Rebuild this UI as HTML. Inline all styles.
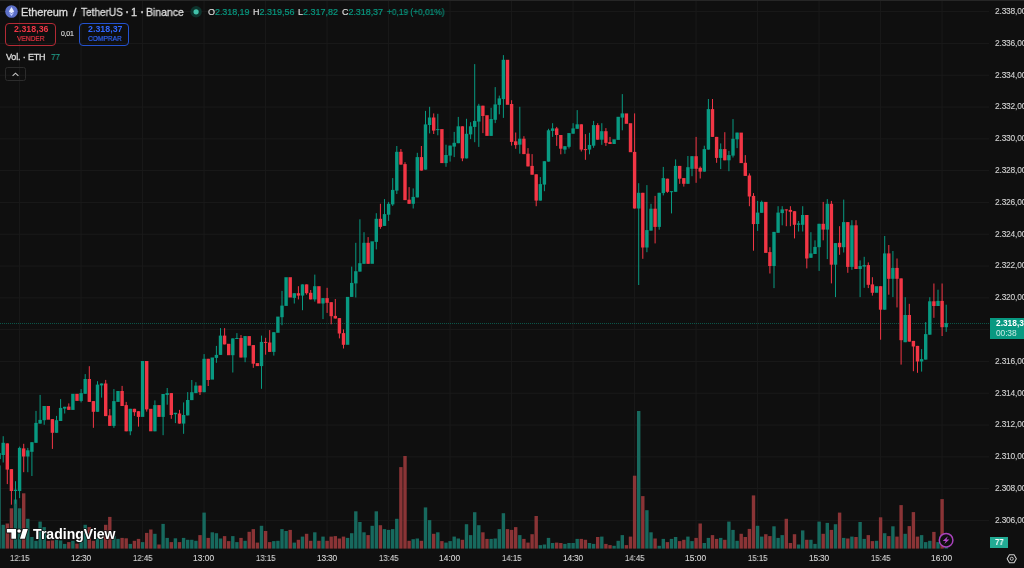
<!DOCTYPE html>
<html><head><meta charset="utf-8"><title>ETHUSDT</title>
<style>
html,body{margin:0;padding:0;background:#0f0f0f;}
body{width:1024px;height:568px;overflow:hidden;position:relative;font-family:"Liberation Sans",sans-serif;color:#d1d4dc;}
.abs{position:absolute;white-space:nowrap;}
.t{height:14px;line-height:14px;will-change:transform;}
.g{color:#089981}
</style></head><body>
<svg width="1024" height="568" viewBox="0 0 1024 568" style="position:absolute;left:0;top:0">
<g fill="#1a1a1a"><rect x="19.10" y="0" width="1" height="549" /><rect x="80.60" y="0" width="1" height="549" /><rect x="142.10" y="0" width="1" height="549" /><rect x="203.60" y="0" width="1" height="549" /><rect x="265.10" y="0" width="1" height="549" /><rect x="326.60" y="0" width="1" height="549" /><rect x="388.10" y="0" width="1" height="549" /><rect x="449.60" y="0" width="1" height="549" /><rect x="511.10" y="0" width="1" height="549" /><rect x="572.60" y="0" width="1" height="549" /><rect x="634.10" y="0" width="1" height="549" /><rect x="695.60" y="0" width="1" height="549" /><rect x="757.10" y="0" width="1" height="549" /><rect x="818.60" y="0" width="1" height="549" /><rect x="880.10" y="0" width="1" height="549" /><rect x="941.60" y="0" width="1" height="549" /><rect x="0" y="11.15" width="989" height="1" /><rect x="0" y="42.95" width="989" height="1" /><rect x="0" y="74.75" width="989" height="1" /><rect x="0" y="106.55" width="989" height="1" /><rect x="0" y="138.35" width="989" height="1" /><rect x="0" y="170.15" width="989" height="1" /><rect x="0" y="201.95" width="989" height="1" /><rect x="0" y="233.75" width="989" height="1" /><rect x="0" y="265.55" width="989" height="1" /><rect x="0" y="297.35" width="989" height="1" /><rect x="0" y="329.15" width="989" height="1" /><rect x="0" y="360.95" width="989" height="1" /><rect x="0" y="392.75" width="989" height="1" /><rect x="0" y="424.55" width="989" height="1" /><rect x="0" y="456.35" width="989" height="1" /><rect x="0" y="488.15" width="989" height="1" /><rect x="0" y="519.95" width="989" height="1" /></g>
<g fill="#17695e"><rect x="-2.60" y="465.4" width="3.4" height="83.2"/><rect x="1.50" y="524.8" width="3.4" height="23.8"/><rect x="13.80" y="499.5" width="3.4" height="49.1"/><rect x="17.90" y="508.3" width="3.4" height="40.3"/><rect x="26.10" y="518.8" width="3.4" height="29.8"/><rect x="30.20" y="537.0" width="3.4" height="11.6"/><rect x="34.30" y="540.8" width="3.4" height="7.8"/><rect x="38.40" y="521.6" width="3.4" height="27.0"/><rect x="42.50" y="527.1" width="3.4" height="21.5"/><rect x="54.80" y="539.8" width="3.4" height="8.8"/><rect x="58.90" y="540.4" width="3.4" height="8.2"/><rect x="63.00" y="543.9" width="3.4" height="4.7"/><rect x="71.20" y="540.8" width="3.4" height="7.8"/><rect x="79.40" y="541.7" width="3.4" height="6.9"/><rect x="83.50" y="524.8" width="3.4" height="23.8"/><rect x="95.80" y="537.9" width="3.4" height="10.7"/><rect x="99.90" y="538.9" width="3.4" height="9.7"/><rect x="112.20" y="536.1" width="3.4" height="12.5"/><rect x="116.30" y="538.9" width="3.4" height="9.7"/><rect x="128.60" y="543.9" width="3.4" height="4.7"/><rect x="140.90" y="542.1" width="3.4" height="6.5"/><rect x="153.20" y="533.8" width="3.4" height="14.8"/><rect x="161.40" y="523.9" width="3.4" height="24.7"/><rect x="165.50" y="537.9" width="3.4" height="10.7"/><rect x="173.70" y="538.3" width="3.4" height="10.3"/><rect x="181.90" y="537.9" width="3.4" height="10.7"/><rect x="186.00" y="539.8" width="3.4" height="8.8"/><rect x="190.10" y="539.8" width="3.4" height="8.8"/><rect x="194.20" y="540.8" width="3.4" height="7.8"/><rect x="202.40" y="512.6" width="3.4" height="36.0"/><rect x="210.60" y="532.3" width="3.4" height="16.3"/><rect x="214.70" y="533.2" width="3.4" height="15.4"/><rect x="218.80" y="538.5" width="3.4" height="10.1"/><rect x="231.10" y="536.1" width="3.4" height="12.5"/><rect x="235.20" y="542.1" width="3.4" height="6.5"/><rect x="243.40" y="540.8" width="3.4" height="7.8"/><rect x="259.80" y="525.8" width="3.4" height="22.8"/><rect x="272.10" y="541.1" width="3.4" height="7.5"/><rect x="276.20" y="540.8" width="3.4" height="7.8"/><rect x="280.30" y="529.1" width="3.4" height="19.5"/><rect x="284.40" y="531.0" width="3.4" height="17.6"/><rect x="292.60" y="542.6" width="3.4" height="6.0"/><rect x="300.80" y="536.6" width="3.4" height="12.0"/><rect x="313.10" y="532.3" width="3.4" height="16.3"/><rect x="321.30" y="536.6" width="3.4" height="12.0"/><rect x="345.90" y="537.9" width="3.4" height="10.7"/><rect x="350.00" y="533.2" width="3.4" height="15.4"/><rect x="354.10" y="511.3" width="3.4" height="37.3"/><rect x="358.20" y="522.0" width="3.4" height="26.6"/><rect x="362.30" y="532.3" width="3.4" height="16.3"/><rect x="370.50" y="525.8" width="3.4" height="22.8"/><rect x="374.60" y="511.3" width="3.4" height="37.3"/><rect x="382.80" y="529.1" width="3.4" height="19.5"/><rect x="386.90" y="529.9" width="3.4" height="18.7"/><rect x="391.00" y="529.1" width="3.4" height="19.5"/><rect x="395.10" y="518.8" width="3.4" height="29.8"/><rect x="411.50" y="539.2" width="3.4" height="9.4"/><rect x="415.60" y="538.5" width="3.4" height="10.1"/><rect x="423.80" y="507.4" width="3.4" height="41.2"/><rect x="427.90" y="520.1" width="3.4" height="28.5"/><rect x="436.10" y="532.3" width="3.4" height="16.3"/><rect x="444.30" y="542.6" width="3.4" height="6.0"/><rect x="448.40" y="541.1" width="3.4" height="7.5"/><rect x="452.50" y="536.6" width="3.4" height="12.0"/><rect x="456.60" y="538.5" width="3.4" height="10.1"/><rect x="464.80" y="524.2" width="3.4" height="24.4"/><rect x="468.90" y="535.1" width="3.4" height="13.5"/><rect x="473.00" y="512.2" width="3.4" height="36.4"/><rect x="477.10" y="525.2" width="3.4" height="23.4"/><rect x="489.40" y="538.9" width="3.4" height="9.7"/><rect x="493.50" y="538.5" width="3.4" height="10.1"/><rect x="497.60" y="529.1" width="3.4" height="19.5"/><rect x="501.70" y="513.2" width="3.4" height="35.4"/><rect x="518.10" y="535.1" width="3.4" height="13.5"/><rect x="538.60" y="545.1" width="3.4" height="3.5"/><rect x="542.70" y="544.5" width="3.4" height="4.1"/><rect x="546.80" y="537.9" width="3.4" height="10.7"/><rect x="550.90" y="543.0" width="3.4" height="5.6"/><rect x="563.20" y="543.9" width="3.4" height="4.7"/><rect x="567.30" y="543.0" width="3.4" height="5.6"/><rect x="571.40" y="543.0" width="3.4" height="5.6"/><rect x="575.50" y="538.9" width="3.4" height="9.7"/><rect x="587.80" y="543.0" width="3.4" height="5.6"/><rect x="591.90" y="543.9" width="3.4" height="4.7"/><rect x="600.10" y="536.6" width="3.4" height="12.0"/><rect x="612.40" y="545.8" width="3.4" height="2.8"/><rect x="616.50" y="540.8" width="3.4" height="7.8"/><rect x="620.60" y="535.1" width="3.4" height="13.5"/><rect x="637.00" y="411.0" width="3.4" height="137.6"/><rect x="645.20" y="510.2" width="3.4" height="38.4"/><rect x="649.30" y="532.3" width="3.4" height="16.3"/><rect x="657.50" y="545.8" width="3.4" height="2.8"/><rect x="661.60" y="538.9" width="3.4" height="9.7"/><rect x="669.80" y="538.9" width="3.4" height="9.7"/><rect x="673.90" y="537.0" width="3.4" height="11.6"/><rect x="686.20" y="536.6" width="3.4" height="12.0"/><rect x="690.30" y="541.1" width="3.4" height="7.5"/><rect x="702.60" y="543.0" width="3.4" height="5.6"/><rect x="706.70" y="537.9" width="3.4" height="10.7"/><rect x="719.00" y="537.9" width="3.4" height="10.7"/><rect x="727.20" y="521.6" width="3.4" height="27.0"/><rect x="731.30" y="529.9" width="3.4" height="18.7"/><rect x="735.40" y="540.8" width="3.4" height="7.8"/><rect x="755.90" y="525.8" width="3.4" height="22.8"/><rect x="760.00" y="536.6" width="3.4" height="12.0"/><rect x="772.30" y="526.3" width="3.4" height="22.3"/><rect x="776.40" y="537.9" width="3.4" height="10.7"/><rect x="780.50" y="535.1" width="3.4" height="13.5"/><rect x="796.90" y="544.5" width="3.4" height="4.1"/><rect x="801.00" y="530.4" width="3.4" height="18.2"/><rect x="809.20" y="539.8" width="3.4" height="8.8"/><rect x="813.30" y="543.9" width="3.4" height="4.7"/><rect x="817.40" y="521.6" width="3.4" height="27.0"/><rect x="825.60" y="522.9" width="3.4" height="25.7"/><rect x="833.80" y="524.2" width="3.4" height="24.4"/><rect x="842.00" y="537.9" width="3.4" height="10.7"/><rect x="850.20" y="536.6" width="3.4" height="12.0"/><rect x="858.40" y="522.0" width="3.4" height="26.6"/><rect x="862.50" y="538.9" width="3.4" height="9.7"/><rect x="874.80" y="540.8" width="3.4" height="7.8"/><rect x="883.00" y="533.2" width="3.4" height="15.4"/><rect x="891.20" y="526.3" width="3.4" height="22.3"/><rect x="903.50" y="533.8" width="3.4" height="14.8"/><rect x="919.90" y="535.1" width="3.4" height="13.5"/><rect x="924.00" y="542.1" width="3.4" height="6.5"/><rect x="928.10" y="540.8" width="3.4" height="7.8"/><rect x="936.30" y="542.1" width="3.4" height="6.5"/><rect x="944.50" y="546.9" width="3.4" height="1.7"/></g>
<g fill="#8a3436"><rect x="5.60" y="523.5" width="3.4" height="25.1"/><rect x="9.70" y="508.3" width="3.4" height="40.3"/><rect x="22.00" y="493.3" width="3.4" height="55.3"/><rect x="46.60" y="540.8" width="3.4" height="7.8"/><rect x="50.70" y="540.4" width="3.4" height="8.2"/><rect x="67.10" y="542.1" width="3.4" height="6.5"/><rect x="75.30" y="543.6" width="3.4" height="5.0"/><rect x="87.60" y="527.1" width="3.4" height="21.5"/><rect x="91.70" y="540.8" width="3.4" height="7.8"/><rect x="104.00" y="524.8" width="3.4" height="23.8"/><rect x="108.10" y="516.9" width="3.4" height="31.7"/><rect x="120.40" y="537.9" width="3.4" height="10.7"/><rect x="124.50" y="538.3" width="3.4" height="10.3"/><rect x="132.70" y="540.8" width="3.4" height="7.8"/><rect x="136.80" y="538.9" width="3.4" height="9.7"/><rect x="145.00" y="532.9" width="3.4" height="15.7"/><rect x="149.10" y="529.5" width="3.4" height="19.1"/><rect x="157.30" y="544.5" width="3.4" height="4.1"/><rect x="169.60" y="542.1" width="3.4" height="6.5"/><rect x="177.80" y="542.1" width="3.4" height="6.5"/><rect x="198.30" y="535.1" width="3.4" height="13.5"/><rect x="206.50" y="537.9" width="3.4" height="10.7"/><rect x="222.90" y="536.1" width="3.4" height="12.5"/><rect x="227.00" y="541.1" width="3.4" height="7.5"/><rect x="239.30" y="537.9" width="3.4" height="10.7"/><rect x="247.50" y="531.8" width="3.4" height="16.8"/><rect x="251.60" y="529.1" width="3.4" height="19.5"/><rect x="255.70" y="542.6" width="3.4" height="6.0"/><rect x="263.90" y="531.0" width="3.4" height="17.6"/><rect x="268.00" y="542.1" width="3.4" height="6.5"/><rect x="288.50" y="529.9" width="3.4" height="18.7"/><rect x="296.70" y="539.8" width="3.4" height="8.8"/><rect x="304.90" y="533.8" width="3.4" height="14.8"/><rect x="309.00" y="540.8" width="3.4" height="7.8"/><rect x="317.20" y="540.8" width="3.4" height="7.8"/><rect x="325.40" y="540.8" width="3.4" height="7.8"/><rect x="329.50" y="536.6" width="3.4" height="12.0"/><rect x="333.60" y="536.1" width="3.4" height="12.5"/><rect x="337.70" y="538.5" width="3.4" height="10.1"/><rect x="341.80" y="536.6" width="3.4" height="12.0"/><rect x="366.40" y="535.1" width="3.4" height="13.5"/><rect x="378.70" y="525.2" width="3.4" height="23.4"/><rect x="399.20" y="467.1" width="3.4" height="81.5"/><rect x="403.30" y="456.0" width="3.4" height="92.6"/><rect x="407.40" y="540.8" width="3.4" height="7.8"/><rect x="419.70" y="540.8" width="3.4" height="7.8"/><rect x="432.00" y="533.8" width="3.4" height="14.8"/><rect x="440.20" y="541.1" width="3.4" height="7.5"/><rect x="460.70" y="539.8" width="3.4" height="8.8"/><rect x="481.20" y="532.3" width="3.4" height="16.3"/><rect x="485.30" y="538.9" width="3.4" height="9.7"/><rect x="505.80" y="529.1" width="3.4" height="19.5"/><rect x="509.90" y="529.9" width="3.4" height="18.7"/><rect x="514.00" y="527.1" width="3.4" height="21.5"/><rect x="522.20" y="538.9" width="3.4" height="9.7"/><rect x="526.30" y="542.6" width="3.4" height="6.0"/><rect x="530.40" y="534.2" width="3.4" height="14.4"/><rect x="534.50" y="516.0" width="3.4" height="32.6"/><rect x="555.00" y="542.6" width="3.4" height="6.0"/><rect x="559.10" y="543.0" width="3.4" height="5.6"/><rect x="579.60" y="538.9" width="3.4" height="9.7"/><rect x="583.70" y="539.8" width="3.4" height="8.8"/><rect x="596.00" y="537.0" width="3.4" height="11.6"/><rect x="604.20" y="543.9" width="3.4" height="4.7"/><rect x="608.30" y="545.1" width="3.4" height="3.5"/><rect x="624.70" y="545.1" width="3.4" height="3.5"/><rect x="628.80" y="536.6" width="3.4" height="12.0"/><rect x="632.90" y="475.7" width="3.4" height="72.9"/><rect x="641.10" y="496.1" width="3.4" height="52.5"/><rect x="653.40" y="538.5" width="3.4" height="10.1"/><rect x="665.70" y="542.1" width="3.4" height="6.5"/><rect x="678.00" y="541.1" width="3.4" height="7.5"/><rect x="682.10" y="539.8" width="3.4" height="8.8"/><rect x="694.40" y="537.9" width="3.4" height="10.7"/><rect x="698.50" y="523.5" width="3.4" height="25.1"/><rect x="710.80" y="535.1" width="3.4" height="13.5"/><rect x="714.90" y="538.9" width="3.4" height="9.7"/><rect x="723.10" y="539.8" width="3.4" height="8.8"/><rect x="739.50" y="533.8" width="3.4" height="14.8"/><rect x="743.60" y="537.0" width="3.4" height="11.6"/><rect x="747.70" y="528.9" width="3.4" height="19.7"/><rect x="751.80" y="495.4" width="3.4" height="53.2"/><rect x="764.10" y="534.2" width="3.4" height="14.4"/><rect x="768.20" y="536.1" width="3.4" height="12.5"/><rect x="784.60" y="518.8" width="3.4" height="29.8"/><rect x="788.70" y="543.0" width="3.4" height="5.6"/><rect x="792.80" y="534.2" width="3.4" height="14.4"/><rect x="805.10" y="539.8" width="3.4" height="8.8"/><rect x="821.50" y="533.8" width="3.4" height="14.8"/><rect x="829.70" y="529.9" width="3.4" height="18.7"/><rect x="837.90" y="512.6" width="3.4" height="36.0"/><rect x="846.10" y="538.5" width="3.4" height="10.1"/><rect x="854.30" y="537.0" width="3.4" height="11.6"/><rect x="866.60" y="535.1" width="3.4" height="13.5"/><rect x="870.70" y="541.1" width="3.4" height="7.5"/><rect x="878.90" y="517.3" width="3.4" height="31.3"/><rect x="887.10" y="536.1" width="3.4" height="12.5"/><rect x="895.30" y="536.6" width="3.4" height="12.0"/><rect x="899.40" y="505.1" width="3.4" height="43.5"/><rect x="907.60" y="526.1" width="3.4" height="22.5"/><rect x="911.70" y="512.1" width="3.4" height="36.5"/><rect x="915.80" y="536.6" width="3.4" height="12.0"/><rect x="932.20" y="531.9" width="3.4" height="16.7"/><rect x="940.40" y="499.1" width="3.4" height="49.5"/></g>
<line x1="0" y1="323.5" x2="989" y2="323.5" stroke="#089981" stroke-width="1" stroke-dasharray="1 1" opacity="0.5"/>
<g fill="#089981"><rect x="-2.60" y="453.1" width="3.4" height="6.0"/><rect x="2.70" y="436.2" width="1" height="26.3"/><rect x="1.50" y="442.8" width="3.4" height="12.2"/><rect x="15.00" y="481.2" width="1" height="22.6"/><rect x="13.80" y="489.7" width="3.4" height="1.3"/><rect x="19.10" y="446.6" width="1" height="51.5"/><rect x="17.90" y="447.9" width="3.4" height="43.1"/><rect x="27.30" y="447.9" width="1" height="24.3"/><rect x="26.10" y="450.3" width="3.4" height="6.2"/><rect x="31.40" y="442.2" width="1" height="33.8"/><rect x="30.20" y="442.2" width="3.4" height="9.6"/><rect x="35.50" y="410.9" width="1" height="31.9"/><rect x="34.30" y="422.9" width="3.4" height="19.9"/><rect x="39.60" y="394.9" width="1" height="28.7"/><rect x="38.40" y="419.9" width="3.4" height="3.7"/><rect x="43.70" y="406.0" width="1" height="18.8"/><rect x="42.50" y="406.0" width="3.4" height="14.2"/><rect x="56.00" y="415.9" width="1" height="16.9"/><rect x="54.80" y="420.2" width="3.4" height="12.6"/><rect x="60.10" y="399.1" width="1" height="21.9"/><rect x="58.90" y="407.9" width="3.4" height="13.1"/><rect x="64.20" y="406.8" width="1" height="6.7"/><rect x="63.00" y="406.8" width="3.4" height="1.8"/><rect x="71.20" y="393.8" width="3.4" height="16.1"/><rect x="80.60" y="389.1" width="1" height="13.3"/><rect x="79.40" y="393.1" width="3.4" height="7.8"/><rect x="84.70" y="374.1" width="1" height="19.7"/><rect x="83.50" y="379.0" width="3.4" height="14.8"/><rect x="97.00" y="381.2" width="1" height="30.6"/><rect x="95.80" y="384.6" width="3.4" height="27.2"/><rect x="101.10" y="383.5" width="1" height="14.1"/><rect x="99.90" y="383.5" width="3.4" height="1.9"/><rect x="113.40" y="389.1" width="1" height="38.7"/><rect x="112.20" y="401.1" width="3.4" height="24.8"/><rect x="116.30" y="391.0" width="3.4" height="10.9"/><rect x="129.80" y="408.8" width="1" height="26.4"/><rect x="128.60" y="408.8" width="3.4" height="22.5"/><rect x="140.90" y="361.0" width="3.4" height="55.9"/><rect x="154.40" y="400.4" width="1" height="30.9"/><rect x="153.20" y="405.1" width="3.4" height="26.2"/><rect x="162.60" y="394.0" width="1" height="41.2"/><rect x="161.40" y="394.0" width="3.4" height="22.9"/><rect x="166.70" y="388.0" width="1" height="16.7"/><rect x="165.50" y="393.1" width="3.4" height="1.8"/><rect x="174.90" y="412.8" width="1" height="10.3"/><rect x="173.70" y="412.8" width="3.4" height="1.4"/><rect x="183.10" y="402.4" width="1" height="31.4"/><rect x="181.90" y="415.0" width="3.4" height="8.6"/><rect x="187.20" y="392.1" width="1" height="23.3"/><rect x="186.00" y="400.0" width="3.4" height="15.4"/><rect x="191.30" y="380.0" width="1" height="20.1"/><rect x="190.10" y="392.2" width="3.4" height="7.9"/><rect x="195.40" y="382.2" width="1" height="10.9"/><rect x="194.20" y="385.6" width="3.4" height="7.5"/><rect x="203.60" y="354.1" width="1" height="38.1"/><rect x="202.40" y="358.8" width="3.4" height="33.4"/><rect x="210.60" y="357.5" width="3.4" height="22.1"/><rect x="215.90" y="345.9" width="1" height="16.9"/><rect x="214.70" y="354.9" width="3.4" height="3.0"/><rect x="220.00" y="328.1" width="1" height="26.8"/><rect x="218.80" y="335.6" width="3.4" height="19.3"/><rect x="232.30" y="338.4" width="1" height="34.1"/><rect x="231.10" y="338.4" width="3.4" height="16.8"/><rect x="236.40" y="333.1" width="1" height="5.9"/><rect x="235.20" y="338.0" width="3.4" height="1.0"/><rect x="244.60" y="336.1" width="1" height="26.1"/><rect x="243.40" y="336.1" width="3.4" height="21.4"/><rect x="261.00" y="335.6" width="1" height="53.2"/><rect x="259.80" y="341.9" width="3.4" height="24.2"/><rect x="273.30" y="332.2" width="1" height="23.4"/><rect x="272.10" y="332.2" width="3.4" height="19.7"/><rect x="276.20" y="316.6" width="3.4" height="16.2"/><rect x="281.50" y="290.9" width="1" height="34.3"/><rect x="280.30" y="305.6" width="3.4" height="11.6"/><rect x="284.40" y="277.2" width="3.4" height="28.7"/><rect x="293.80" y="293.2" width="1" height="10.3"/><rect x="292.60" y="293.2" width="3.4" height="4.7"/><rect x="302.00" y="284.4" width="1" height="25.8"/><rect x="300.80" y="284.4" width="3.4" height="11.2"/><rect x="314.30" y="274.6" width="1" height="27.0"/><rect x="313.10" y="286.2" width="3.4" height="13.2"/><rect x="322.50" y="298.1" width="1" height="21.0"/><rect x="321.30" y="298.1" width="3.4" height="5.4"/><rect x="345.90" y="296.9" width="3.4" height="47.9"/><rect x="351.20" y="266.6" width="1" height="30.3"/><rect x="350.00" y="282.9" width="3.4" height="14.0"/><rect x="355.30" y="242.8" width="1" height="54.7"/><rect x="354.10" y="271.2" width="3.4" height="12.2"/><rect x="359.40" y="219.3" width="1" height="52.3"/><rect x="358.20" y="263.2" width="3.4" height="8.4"/><rect x="363.50" y="232.2" width="1" height="31.6"/><rect x="362.30" y="242.8" width="3.4" height="21.0"/><rect x="370.50" y="241.3" width="3.4" height="22.5"/><rect x="375.80" y="213.2" width="1" height="36.2"/><rect x="374.60" y="218.8" width="3.4" height="23.1"/><rect x="384.00" y="199.1" width="1" height="26.8"/><rect x="382.80" y="214.1" width="3.4" height="11.8"/><rect x="388.10" y="201.9" width="1" height="19.0"/><rect x="386.90" y="203.8" width="3.4" height="10.9"/><rect x="392.20" y="178.1" width="1" height="27.8"/><rect x="391.00" y="189.9" width="3.4" height="14.5"/><rect x="396.30" y="146.0" width="1" height="48.0"/><rect x="395.10" y="151.8" width="3.4" height="38.8"/><rect x="412.70" y="188.4" width="1" height="20.1"/><rect x="411.50" y="196.9" width="3.4" height="6.9"/><rect x="416.80" y="152.8" width="1" height="44.6"/><rect x="415.60" y="157.1" width="3.4" height="40.3"/><rect x="425.00" y="110.9" width="1" height="58.7"/><rect x="423.80" y="124.4" width="3.4" height="45.2"/><rect x="429.10" y="106.8" width="1" height="26.6"/><rect x="427.90" y="117.5" width="3.4" height="7.5"/><rect x="437.30" y="113.8" width="1" height="21.5"/><rect x="436.10" y="129.1" width="3.4" height="1.0"/><rect x="445.50" y="144.7" width="1" height="22.1"/><rect x="444.30" y="155.0" width="3.4" height="8.1"/><rect x="449.60" y="145.6" width="1" height="16.0"/><rect x="448.40" y="145.6" width="3.4" height="10.0"/><rect x="453.70" y="131.9" width="1" height="25.2"/><rect x="452.50" y="142.8" width="3.4" height="3.8"/><rect x="457.80" y="116.9" width="1" height="26.3"/><rect x="456.60" y="126.3" width="3.4" height="16.9"/><rect x="466.00" y="118.8" width="1" height="39.6"/><rect x="464.80" y="133.8" width="3.4" height="24.6"/><rect x="470.10" y="122.2" width="1" height="16.9"/><rect x="468.90" y="126.3" width="3.4" height="8.1"/><rect x="474.20" y="64.1" width="1" height="78.1"/><rect x="473.00" y="120.9" width="3.4" height="6.0"/><rect x="478.30" y="103.8" width="1" height="43.1"/><rect x="477.10" y="105.7" width="3.4" height="15.9"/><rect x="490.60" y="107.8" width="1" height="28.1"/><rect x="489.40" y="119.0" width="3.4" height="16.9"/><rect x="494.70" y="87.1" width="1" height="36.0"/><rect x="493.50" y="104.4" width="3.4" height="15.4"/><rect x="498.80" y="95.6" width="1" height="18.7"/><rect x="497.60" y="98.4" width="3.4" height="6.5"/><rect x="502.90" y="55.1" width="1" height="62.8"/><rect x="501.70" y="59.8" width="3.4" height="39.3"/><rect x="519.30" y="106.8" width="1" height="46.9"/><rect x="518.10" y="138.7" width="3.4" height="6.0"/><rect x="539.80" y="177.1" width="1" height="23.5"/><rect x="538.60" y="184.1" width="3.4" height="16.5"/><rect x="543.90" y="161.2" width="1" height="30.0"/><rect x="542.70" y="161.2" width="3.4" height="23.4"/><rect x="548.00" y="128.8" width="1" height="32.8"/><rect x="546.80" y="130.3" width="3.4" height="31.3"/><rect x="552.10" y="123.2" width="1" height="13.7"/><rect x="550.90" y="128.4" width="3.4" height="2.5"/><rect x="564.40" y="146.2" width="1" height="7.6"/><rect x="563.20" y="146.2" width="3.4" height="3.4"/><rect x="568.50" y="133.1" width="1" height="15.4"/><rect x="567.30" y="133.1" width="3.4" height="13.7"/><rect x="572.60" y="123.2" width="1" height="10.5"/><rect x="571.40" y="128.4" width="3.4" height="5.3"/><rect x="576.70" y="110.1" width="1" height="18.7"/><rect x="575.50" y="124.3" width="3.4" height="4.5"/><rect x="589.00" y="132.8" width="1" height="21.5"/><rect x="587.80" y="144.9" width="3.4" height="4.7"/><rect x="593.10" y="120.9" width="1" height="26.9"/><rect x="591.90" y="125.1" width="3.4" height="20.6"/><rect x="601.30" y="123.2" width="1" height="21.6"/><rect x="600.10" y="131.2" width="3.4" height="8.5"/><rect x="612.40" y="139.3" width="3.4" height="4.7"/><rect x="616.50" y="116.8" width="3.4" height="23.1"/><rect x="621.80" y="94.1" width="1" height="36.2"/><rect x="620.60" y="113.4" width="3.4" height="4.2"/><rect x="638.20" y="183.2" width="1" height="101.8"/><rect x="637.00" y="192.8" width="3.4" height="15.7"/><rect x="646.40" y="185.1" width="1" height="67.1"/><rect x="645.20" y="230.1" width="3.4" height="17.4"/><rect x="650.50" y="203.8" width="1" height="26.8"/><rect x="649.30" y="208.7" width="3.4" height="21.9"/><rect x="658.70" y="192.8" width="1" height="36.9"/><rect x="657.50" y="192.8" width="3.4" height="34.1"/><rect x="662.80" y="166.9" width="1" height="28.5"/><rect x="661.60" y="178.1" width="3.4" height="15.0"/><rect x="671.00" y="191.2" width="1" height="22.2"/><rect x="669.80" y="191.2" width="3.4" height="1.0"/><rect x="675.10" y="159.4" width="1" height="32.4"/><rect x="673.90" y="165.9" width="3.4" height="25.9"/><rect x="687.40" y="156.0" width="1" height="27.8"/><rect x="686.20" y="167.2" width="3.4" height="16.6"/><rect x="691.50" y="156.2" width="1" height="20.0"/><rect x="690.30" y="156.2" width="3.4" height="12.6"/><rect x="703.80" y="145.7" width="1" height="25.9"/><rect x="702.60" y="149.1" width="3.4" height="22.5"/><rect x="707.90" y="99.0" width="1" height="50.6"/><rect x="706.70" y="109.1" width="3.4" height="40.5"/><rect x="720.20" y="143.4" width="1" height="25.7"/><rect x="719.00" y="149.1" width="3.4" height="8.8"/><rect x="728.40" y="150.9" width="1" height="20.3"/><rect x="727.20" y="155.1" width="3.4" height="5.2"/><rect x="732.50" y="119.1" width="1" height="38.4"/><rect x="731.30" y="138.8" width="3.4" height="16.8"/><rect x="736.60" y="132.6" width="1" height="15.5"/><rect x="735.40" y="132.6" width="3.4" height="6.7"/><rect x="757.10" y="200.9" width="1" height="30.0"/><rect x="755.90" y="212.6" width="3.4" height="11.4"/><rect x="761.20" y="200.6" width="1" height="12.2"/><rect x="760.00" y="201.9" width="3.4" height="10.9"/><rect x="773.50" y="231.9" width="1" height="56.2"/><rect x="772.30" y="231.9" width="3.4" height="34.1"/><rect x="777.60" y="206.2" width="1" height="26.6"/><rect x="776.40" y="212.6" width="3.4" height="20.2"/><rect x="781.70" y="206.2" width="1" height="19.1"/><rect x="780.50" y="209.4" width="3.4" height="3.7"/><rect x="798.10" y="221.0" width="1" height="10.5"/><rect x="796.90" y="223.4" width="3.4" height="1.4"/><rect x="802.20" y="206.2" width="1" height="25.3"/><rect x="801.00" y="215.0" width="3.4" height="9.8"/><rect x="810.40" y="232.2" width="1" height="25.6"/><rect x="809.20" y="253.4" width="3.4" height="4.4"/><rect x="814.50" y="240.3" width="1" height="13.7"/><rect x="813.30" y="246.9" width="3.4" height="7.1"/><rect x="818.60" y="223.8" width="1" height="47.1"/><rect x="817.40" y="223.8" width="3.4" height="23.4"/><rect x="826.80" y="199.1" width="1" height="60.0"/><rect x="825.60" y="203.8" width="3.4" height="25.8"/><rect x="835.00" y="243.1" width="1" height="54.0"/><rect x="833.80" y="243.1" width="3.4" height="21.6"/><rect x="843.20" y="199.6" width="1" height="52.9"/><rect x="842.00" y="222.1" width="3.4" height="25.1"/><rect x="851.40" y="220.2" width="1" height="49.6"/><rect x="850.20" y="225.3" width="3.4" height="41.6"/><rect x="859.60" y="260.4" width="1" height="36.7"/><rect x="858.40" y="266.0" width="3.4" height="3.0"/><rect x="863.70" y="256.8" width="1" height="31.0"/><rect x="862.50" y="265.1" width="3.4" height="1.5"/><rect x="874.80" y="286.2" width="3.4" height="6.6"/><rect x="884.20" y="236.0" width="1" height="73.7"/><rect x="883.00" y="253.4" width="3.4" height="56.3"/><rect x="892.40" y="251.0" width="1" height="46.1"/><rect x="891.20" y="267.9" width="3.4" height="10.9"/><rect x="904.70" y="297.2" width="1" height="45.0"/><rect x="903.50" y="315.0" width="3.4" height="27.2"/><rect x="921.10" y="349.1" width="1" height="22.5"/><rect x="919.90" y="359.1" width="3.4" height="2.4"/><rect x="925.20" y="322.1" width="1" height="37.5"/><rect x="924.00" y="334.1" width="3.4" height="25.5"/><rect x="929.30" y="297.2" width="1" height="37.5"/><rect x="928.10" y="301.3" width="3.4" height="33.4"/><rect x="937.50" y="289.7" width="1" height="16.3"/><rect x="936.30" y="300.9" width="3.4" height="5.1"/><rect x="945.70" y="304.7" width="1" height="27.2"/><rect x="944.50" y="323.1" width="3.4" height="4.1"/></g>
<g fill="#f23645"><rect x="6.80" y="443.4" width="1" height="40.7"/><rect x="5.60" y="443.4" width="3.4" height="26.2"/><rect x="10.90" y="469.1" width="1" height="35.6"/><rect x="9.70" y="469.1" width="3.4" height="21.9"/><rect x="23.20" y="443.8" width="1" height="28.4"/><rect x="22.00" y="448.4" width="3.4" height="8.1"/><rect x="46.60" y="406.0" width="3.4" height="13.7"/><rect x="51.90" y="419.1" width="1" height="29.8"/><rect x="50.70" y="419.1" width="3.4" height="13.7"/><rect x="68.30" y="403.4" width="1" height="6.5"/><rect x="67.10" y="406.6" width="3.4" height="3.3"/><rect x="75.30" y="393.8" width="3.4" height="7.1"/><rect x="88.80" y="366.2" width="1" height="35.7"/><rect x="87.60" y="379.0" width="3.4" height="22.9"/><rect x="92.90" y="401.1" width="1" height="26.7"/><rect x="91.70" y="401.1" width="3.4" height="10.7"/><rect x="105.20" y="379.9" width="1" height="36.2"/><rect x="104.00" y="383.5" width="3.4" height="32.6"/><rect x="109.30" y="409.0" width="1" height="16.9"/><rect x="108.10" y="415.4" width="3.4" height="10.5"/><rect x="121.60" y="385.9" width="1" height="20.1"/><rect x="120.40" y="391.0" width="3.4" height="15.0"/><rect x="125.70" y="401.9" width="1" height="29.4"/><rect x="124.50" y="405.1" width="3.4" height="26.2"/><rect x="133.90" y="408.8" width="1" height="7.1"/><rect x="132.70" y="408.8" width="3.4" height="3.4"/><rect x="138.00" y="411.2" width="1" height="15.4"/><rect x="136.80" y="411.2" width="3.4" height="5.7"/><rect x="146.20" y="361.0" width="1" height="50.6"/><rect x="145.00" y="361.0" width="3.4" height="48.4"/><rect x="149.10" y="408.8" width="3.4" height="22.5"/><rect x="157.30" y="405.1" width="3.4" height="11.8"/><rect x="170.80" y="393.1" width="1" height="25.7"/><rect x="169.60" y="393.1" width="3.4" height="21.9"/><rect x="179.00" y="409.9" width="1" height="13.7"/><rect x="177.80" y="413.5" width="3.4" height="10.1"/><rect x="199.50" y="385.6" width="1" height="9.4"/><rect x="198.30" y="385.6" width="3.4" height="6.6"/><rect x="207.70" y="358.8" width="1" height="27.2"/><rect x="206.50" y="358.8" width="3.4" height="21.2"/><rect x="224.10" y="328.1" width="1" height="16.3"/><rect x="222.90" y="335.6" width="3.4" height="8.8"/><rect x="227.00" y="343.8" width="3.4" height="11.4"/><rect x="240.50" y="335.0" width="1" height="22.5"/><rect x="239.30" y="338.0" width="3.4" height="19.5"/><rect x="247.50" y="336.1" width="3.4" height="9.6"/><rect x="252.80" y="345.1" width="1" height="22.7"/><rect x="251.60" y="345.1" width="3.4" height="18.6"/><rect x="255.70" y="363.1" width="3.4" height="3.0"/><rect x="265.10" y="337.8" width="1" height="16.9"/><rect x="263.90" y="341.9" width="3.4" height="1.0"/><rect x="269.20" y="330.1" width="1" height="21.8"/><rect x="268.00" y="342.5" width="3.4" height="9.4"/><rect x="288.50" y="277.2" width="3.4" height="20.3"/><rect x="297.90" y="286.2" width="1" height="13.2"/><rect x="296.70" y="293.2" width="3.4" height="2.4"/><rect x="306.10" y="284.4" width="1" height="10.3"/><rect x="304.90" y="284.4" width="3.4" height="8.8"/><rect x="310.20" y="290.0" width="1" height="9.4"/><rect x="309.00" y="292.8" width="3.4" height="6.6"/><rect x="317.20" y="286.2" width="3.4" height="17.3"/><rect x="326.60" y="287.8" width="1" height="25.1"/><rect x="325.40" y="298.1" width="3.4" height="4.7"/><rect x="330.70" y="302.2" width="1" height="22.1"/><rect x="329.50" y="302.2" width="3.4" height="14.0"/><rect x="334.80" y="299.0" width="1" height="19.5"/><rect x="333.60" y="315.9" width="3.4" height="2.6"/><rect x="338.90" y="318.1" width="1" height="20.3"/><rect x="337.70" y="318.1" width="3.4" height="15.4"/><rect x="343.00" y="329.4" width="1" height="19.1"/><rect x="341.80" y="333.1" width="3.4" height="11.7"/><rect x="367.60" y="237.1" width="1" height="26.7"/><rect x="366.40" y="242.8" width="3.4" height="21.0"/><rect x="379.90" y="203.8" width="1" height="25.0"/><rect x="378.70" y="218.8" width="3.4" height="8.1"/><rect x="400.40" y="149.0" width="1" height="15.6"/><rect x="399.20" y="151.8" width="3.4" height="12.8"/><rect x="404.50" y="162.2" width="1" height="37.9"/><rect x="403.30" y="164.1" width="3.4" height="36.0"/><rect x="408.60" y="187.1" width="1" height="16.7"/><rect x="407.40" y="199.7" width="3.4" height="4.1"/><rect x="420.90" y="146.0" width="1" height="24.6"/><rect x="419.70" y="157.1" width="3.4" height="13.5"/><rect x="433.20" y="113.4" width="1" height="20.6"/><rect x="432.00" y="117.5" width="3.4" height="13.1"/><rect x="440.20" y="129.1" width="3.4" height="34.0"/><rect x="461.90" y="126.3" width="1" height="34.9"/><rect x="460.70" y="126.3" width="3.4" height="32.1"/><rect x="482.40" y="105.7" width="1" height="27.4"/><rect x="481.20" y="105.7" width="3.4" height="10.3"/><rect x="485.30" y="115.2" width="3.4" height="20.7"/><rect x="505.80" y="59.8" width="3.4" height="45.0"/><rect x="511.10" y="100.2" width="1" height="45.4"/><rect x="509.90" y="104.0" width="3.4" height="37.9"/><rect x="515.20" y="132.5" width="1" height="16.3"/><rect x="514.00" y="141.3" width="3.4" height="3.8"/><rect x="523.40" y="136.2" width="1" height="17.9"/><rect x="522.20" y="138.7" width="3.4" height="15.4"/><rect x="527.50" y="148.1" width="1" height="18.3"/><rect x="526.30" y="153.7" width="3.4" height="12.7"/><rect x="531.60" y="154.1" width="1" height="20.6"/><rect x="530.40" y="165.9" width="3.4" height="8.8"/><rect x="535.70" y="174.3" width="1" height="31.9"/><rect x="534.50" y="174.3" width="3.4" height="26.3"/><rect x="556.20" y="126.9" width="1" height="19.0"/><rect x="555.00" y="128.4" width="3.4" height="6.6"/><rect x="560.30" y="135.0" width="1" height="19.3"/><rect x="559.10" y="135.0" width="3.4" height="13.7"/><rect x="580.80" y="124.3" width="1" height="27.2"/><rect x="579.60" y="124.3" width="3.4" height="25.3"/><rect x="584.90" y="134.1" width="1" height="25.7"/><rect x="583.70" y="149.1" width="3.4" height="1.0"/><rect x="597.20" y="123.2" width="1" height="16.5"/><rect x="596.00" y="125.1" width="3.4" height="14.6"/><rect x="605.40" y="128.1" width="1" height="17.8"/><rect x="604.20" y="131.2" width="3.4" height="11.7"/><rect x="609.50" y="136.9" width="1" height="7.1"/><rect x="608.30" y="142.1" width="3.4" height="1.9"/><rect x="624.70" y="113.4" width="3.4" height="10.4"/><rect x="628.80" y="123.2" width="3.4" height="29.0"/><rect x="634.10" y="113.4" width="1" height="95.1"/><rect x="632.90" y="151.9" width="3.4" height="56.6"/><rect x="642.30" y="192.8" width="1" height="66.0"/><rect x="641.10" y="192.8" width="3.4" height="54.7"/><rect x="654.60" y="195.9" width="1" height="47.5"/><rect x="653.40" y="208.7" width="3.4" height="18.2"/><rect x="666.90" y="178.7" width="1" height="14.1"/><rect x="665.70" y="178.7" width="3.4" height="13.1"/><rect x="679.20" y="165.9" width="1" height="17.9"/><rect x="678.00" y="165.9" width="3.4" height="12.8"/><rect x="683.30" y="178.1" width="1" height="8.5"/><rect x="682.10" y="178.1" width="3.4" height="5.7"/><rect x="695.60" y="136.9" width="1" height="45.9"/><rect x="694.40" y="156.2" width="3.4" height="12.6"/><rect x="699.70" y="166.5" width="1" height="12.0"/><rect x="698.50" y="167.8" width="3.4" height="3.8"/><rect x="712.00" y="99.0" width="1" height="37.9"/><rect x="710.80" y="109.1" width="3.4" height="27.8"/><rect x="716.10" y="136.9" width="1" height="25.9"/><rect x="714.90" y="136.9" width="3.4" height="21.0"/><rect x="724.30" y="132.2" width="1" height="28.1"/><rect x="723.10" y="149.1" width="3.4" height="11.2"/><rect x="739.50" y="132.6" width="3.4" height="30.5"/><rect x="744.80" y="155.1" width="1" height="20.8"/><rect x="743.60" y="162.8" width="3.4" height="13.1"/><rect x="748.90" y="173.4" width="1" height="32.8"/><rect x="747.70" y="175.5" width="3.4" height="21.0"/><rect x="753.00" y="193.1" width="1" height="57.6"/><rect x="751.80" y="195.9" width="3.4" height="28.2"/><rect x="764.10" y="201.9" width="3.4" height="51.0"/><rect x="769.40" y="247.2" width="1" height="26.3"/><rect x="768.20" y="252.1" width="3.4" height="13.9"/><rect x="785.80" y="209.4" width="1" height="16.8"/><rect x="784.60" y="209.4" width="3.4" height="1.0"/><rect x="789.90" y="206.2" width="1" height="20.0"/><rect x="788.70" y="209.9" width="3.4" height="1.9"/><rect x="794.00" y="211.2" width="1" height="27.2"/><rect x="792.80" y="211.2" width="3.4" height="13.6"/><rect x="806.30" y="215.0" width="1" height="53.4"/><rect x="805.10" y="215.0" width="3.4" height="43.5"/><rect x="822.70" y="201.9" width="1" height="38.4"/><rect x="821.50" y="223.8" width="3.4" height="5.8"/><rect x="830.90" y="200.9" width="1" height="82.5"/><rect x="829.70" y="203.8" width="3.4" height="60.9"/><rect x="839.10" y="226.2" width="1" height="28.6"/><rect x="837.90" y="242.8" width="3.4" height="4.4"/><rect x="847.30" y="222.1" width="1" height="50.7"/><rect x="846.10" y="222.1" width="3.4" height="44.8"/><rect x="855.50" y="220.2" width="1" height="48.8"/><rect x="854.30" y="225.3" width="3.4" height="43.7"/><rect x="867.80" y="262.4" width="1" height="25.7"/><rect x="866.60" y="265.1" width="3.4" height="19.7"/><rect x="871.90" y="277.2" width="1" height="18.4"/><rect x="870.70" y="284.4" width="3.4" height="8.4"/><rect x="880.10" y="286.2" width="1" height="53.5"/><rect x="878.90" y="286.2" width="3.4" height="23.5"/><rect x="888.30" y="245.0" width="1" height="49.7"/><rect x="887.10" y="253.4" width="3.4" height="25.4"/><rect x="896.50" y="258.5" width="1" height="48.9"/><rect x="895.30" y="267.9" width="3.4" height="10.9"/><rect x="900.60" y="278.4" width="1" height="86.2"/><rect x="899.40" y="278.4" width="3.4" height="61.8"/><rect x="908.80" y="303.8" width="1" height="37.8"/><rect x="907.60" y="315.0" width="3.4" height="26.6"/><rect x="912.90" y="340.9" width="1" height="30.3"/><rect x="911.70" y="340.9" width="3.4" height="5.6"/><rect x="917.00" y="345.9" width="1" height="26.9"/><rect x="915.80" y="345.9" width="3.4" height="15.6"/><rect x="933.40" y="283.5" width="1" height="34.3"/><rect x="932.20" y="301.3" width="3.4" height="4.7"/><rect x="941.60" y="283.5" width="1" height="52.5"/><rect x="940.40" y="300.9" width="3.4" height="26.3"/></g>
</svg>
<div class="abs" style="left:0;top:0;width:1024px;height:1px;background:#262626"></div>
<svg class="abs" style="left:5px;top:5px" width="13" height="13" viewBox="0 0 13 13"><circle cx="6.5" cy="6.5" r="6.3" fill="#5d70c9"/><path d="M6.5 2 L9.2 6.6 L6.5 8.2 L3.8 6.6 Z" fill="#e8ecff"/><path d="M6.5 8.9 L9.2 7.3 L6.5 11 L3.8 7.3 Z" fill="#c9d2ff"/></svg>
<svg class="abs" style="left:189px;top:5px" width="14" height="14" viewBox="0 0 14 14"><circle cx="7.1" cy="6.8" r="5.7" fill="#0e332d"/><circle cx="7.1" cy="6.8" r="2.6" fill="#42c2aa"/></svg>
<div class="abs" style="left:5px;top:22.5px;width:48.5px;height:21px;border:1px solid #b42a35;border-radius:4px;"></div>
<div class="abs" style="left:78.6px;top:22.5px;width:48.5px;height:21px;border:1px solid #2452cf;border-radius:4px;"></div>
<div class="abs" style="left:5.3px;top:67.3px;width:18.3px;height:11.9px;border:1px solid #2c2c2c;border-radius:2.5px;"></div>
<svg class="abs" style="left:10.9px;top:70.8px" width="9" height="7" viewBox="0 0 9 7"><path d="M1.6 4.9 L4.5 2.2 L7.4 4.9" fill="none" stroke="#c4c4c4" stroke-width="1.15"/></svg>
<div class="abs t" id="p0" style="left:995.4px;top:4.09px;font-size:8.4px;font-weight:normal;color:#d4d4d4;letter-spacing:-0.176px;-webkit-text-stroke-width:0.1px;">2.338,00</div>
<div class="abs t" id="p1" style="left:995.4px;top:35.89px;font-size:8.4px;font-weight:normal;color:#d4d4d4;letter-spacing:-0.176px;-webkit-text-stroke-width:0.1px;">2.336,00</div>
<div class="abs t" id="p2" style="left:995.4px;top:67.69px;font-size:8.4px;font-weight:normal;color:#d4d4d4;letter-spacing:-0.176px;-webkit-text-stroke-width:0.1px;">2.334,00</div>
<div class="abs t" id="p3" style="left:995.4px;top:99.49px;font-size:8.4px;font-weight:normal;color:#d4d4d4;letter-spacing:-0.176px;-webkit-text-stroke-width:0.1px;">2.332,00</div>
<div class="abs t" id="p4" style="left:995.4px;top:131.29px;font-size:8.4px;font-weight:normal;color:#d4d4d4;letter-spacing:-0.176px;-webkit-text-stroke-width:0.1px;">2.330,00</div>
<div class="abs t" id="p5" style="left:995.4px;top:163.09px;font-size:8.4px;font-weight:normal;color:#d4d4d4;letter-spacing:-0.176px;-webkit-text-stroke-width:0.1px;">2.328,00</div>
<div class="abs t" id="p6" style="left:995.4px;top:194.89px;font-size:8.4px;font-weight:normal;color:#d4d4d4;letter-spacing:-0.176px;-webkit-text-stroke-width:0.1px;">2.326,00</div>
<div class="abs t" id="p7" style="left:995.4px;top:226.69px;font-size:8.4px;font-weight:normal;color:#d4d4d4;letter-spacing:-0.176px;-webkit-text-stroke-width:0.1px;">2.324,00</div>
<div class="abs t" id="p8" style="left:995.4px;top:258.49px;font-size:8.4px;font-weight:normal;color:#d4d4d4;letter-spacing:-0.176px;-webkit-text-stroke-width:0.1px;">2.322,00</div>
<div class="abs t" id="p9" style="left:995.4px;top:290.29px;font-size:8.4px;font-weight:normal;color:#d4d4d4;letter-spacing:-0.176px;-webkit-text-stroke-width:0.1px;">2.320,00</div>
<div class="abs t" id="p10" style="left:995.4px;top:322.09px;font-size:8.4px;font-weight:normal;color:#d4d4d4;letter-spacing:-0.176px;-webkit-text-stroke-width:0.1px;">2.318,00</div>
<div class="abs t" id="p11" style="left:995.4px;top:353.89px;font-size:8.4px;font-weight:normal;color:#d4d4d4;letter-spacing:-0.176px;-webkit-text-stroke-width:0.1px;">2.316,00</div>
<div class="abs t" id="p12" style="left:995.4px;top:385.69px;font-size:8.4px;font-weight:normal;color:#d4d4d4;letter-spacing:-0.176px;-webkit-text-stroke-width:0.1px;">2.314,00</div>
<div class="abs t" id="p13" style="left:995.4px;top:417.49px;font-size:8.4px;font-weight:normal;color:#d4d4d4;letter-spacing:-0.176px;-webkit-text-stroke-width:0.1px;">2.312,00</div>
<div class="abs t" id="p14" style="left:995.4px;top:449.29px;font-size:8.4px;font-weight:normal;color:#d4d4d4;letter-spacing:-0.176px;-webkit-text-stroke-width:0.1px;">2.310,00</div>
<div class="abs t" id="p15" style="left:995.4px;top:481.09px;font-size:8.4px;font-weight:normal;color:#d4d4d4;letter-spacing:-0.176px;-webkit-text-stroke-width:0.1px;">2.308,00</div>
<div class="abs t" id="p16" style="left:995.4px;top:512.89px;font-size:8.4px;font-weight:normal;color:#d4d4d4;letter-spacing:-0.176px;-webkit-text-stroke-width:0.1px;">2.306,00</div>
<div class="abs" style="left:990px;top:318px;width:34px;height:21px;background:#089981"></div>
<div class="abs" style="left:990px;top:536.5px;width:18px;height:11.5px;background:#22ab94"></div>
<div class="abs t" id="ti1" style="left:20.6px;top:5.19px;font-size:11px;font-weight:normal;color:#dcdcdc;letter-spacing:-0.100px;-webkit-text-stroke-width:0.3px;">Ethereum</div>
<div class="abs t" id="ti2" style="left:72.6px;top:5.19px;font-size:11px;font-weight:normal;color:#dcdcdc;letter-spacing:0.000px;transform:scaleX(1.1102);transform-origin:0 50%;-webkit-text-stroke-width:0.3px;">/</div>
<div class="abs t" id="ti3" style="left:81.25px;top:5.19px;font-size:11px;font-weight:normal;color:#dcdcdc;letter-spacing:0.000px;transform:scaleX(0.9137);transform-origin:0 50%;-webkit-text-stroke-width:0.3px;">TetherUS</div>
<div class="abs t" id="ti4" style="left:126.2px;top:5.19px;font-size:11px;font-weight:bold;color:#dcdcdc;letter-spacing:0.000px;transform:scaleX(0.7081);transform-origin:0 50%;-webkit-text-stroke-width:0.5px;">·</div>
<div class="abs t" id="ti5" style="left:131.2px;top:5.19px;font-size:11px;font-weight:normal;color:#dcdcdc;letter-spacing:0.000px;-webkit-text-stroke-width:0.3px;">1</div>
<div class="abs t" id="ti6" style="left:140.7px;top:5.19px;font-size:11px;font-weight:bold;color:#dcdcdc;letter-spacing:0.000px;transform:scaleX(0.7081);transform-origin:0 50%;-webkit-text-stroke-width:0.5px;">·</div>
<div class="abs t" id="ti7" style="left:146.25px;top:5.19px;font-size:11px;font-weight:normal;color:#dcdcdc;letter-spacing:0.000px;transform:scaleX(0.9493);transform-origin:0 50%;-webkit-text-stroke-width:0.3px;">Binance</div>
<div class="abs t" id="o" style="left:207.5px;top:4.88px;font-size:9px;font-weight:normal;color:#dcdcdc;letter-spacing:-0.062px;-webkit-text-stroke-width:0.18px;">O<span class="g">2.318,19</span></div>
<div class="abs t" id="h" style="left:252.5px;top:4.88px;font-size:9px;font-weight:normal;color:#dcdcdc;letter-spacing:-0.005px;-webkit-text-stroke-width:0.18px;">H<span class="g">2.319,56</span></div>
<div class="abs t" id="l" style="left:297.5px;top:4.88px;font-size:9px;font-weight:normal;color:#dcdcdc;letter-spacing:-0.007px;-webkit-text-stroke-width:0.18px;">L<span class="g">2.317,82</span></div>
<div class="abs t" id="c" style="left:341.5px;top:4.88px;font-size:9px;font-weight:normal;color:#dcdcdc;letter-spacing:-0.061px;-webkit-text-stroke-width:0.18px;">C<span class="g">2.318,37</span></div>
<div class="abs t" id="chg" style="left:387px;top:4.88px;font-size:9px;font-weight:normal;color:#dcdcdc;letter-spacing:0.000px;transform:scaleX(0.9267);transform-origin:0 50%;-webkit-text-stroke-width:0.18px;"><span class="g">+0,19 (+0,01%)</span></div>
<div class="abs t" id="sellp" style="left:13.5px;top:21.85px;font-size:8.8px;font-weight:bold;color:#f23645;letter-spacing:0.031px;">2.318,36</div>
<div class="abs t" id="sellt" style="left:16.9px;top:32.34px;font-size:7.4px;font-weight:normal;color:#f23645;letter-spacing:0.000px;transform:scaleX(0.8925);transform-origin:0 50%;-webkit-text-stroke-width:0.2px;">VENDER</div>
<div class="abs t" id="spread" style="left:61px;top:26.91px;font-size:6.9px;font-weight:normal;color:#dcdcdc;letter-spacing:-0.230px;-webkit-text-stroke-width:0.15px;">0,01</div>
<div class="abs t" id="buyp" style="left:87.5px;top:21.85px;font-size:8.8px;font-weight:bold;color:#2f66ff;letter-spacing:0.031px;">2.318,37</div>
<div class="abs t" id="buyt" style="left:87.5px;top:32.34px;font-size:7.4px;font-weight:normal;color:#2f66ff;letter-spacing:0.000px;transform:scaleX(0.8933);transform-origin:0 50%;-webkit-text-stroke-width:0.2px;">COMPRAR</div>
<div class="abs t" id="vol" style="left:5.6px;top:49.68px;font-size:9px;font-weight:normal;color:#dcdcdc;letter-spacing:-0.162px;-webkit-text-stroke-width:0.3px;">Vol. · ETH</div>
<div class="abs t" id="vol77" style="left:51px;top:49.68px;font-size:9px;font-weight:normal;color:#22ab94;letter-spacing:0.000px;transform:scaleX(0.8986);transform-origin:0 50%;-webkit-text-stroke-width:0.1px;">77</div>
<div class="abs t" id="curp" style="left:995.5px;top:315.99px;font-size:8.4px;font-weight:bold;color:#ffffff;letter-spacing:-0.014px;">2.318,37</div>
<div class="abs t" id="curt" style="left:995.5px;top:325.79px;font-size:8.4px;font-weight:normal;color:#c5ebe4;letter-spacing:-0.094px;">00:38</div>
<div class="abs t" id="v77" style="left:994.7px;top:535.49px;font-size:8.4px;font-weight:bold;color:#ffffff;letter-spacing:0.000px;transform:scaleX(0.9219);transform-origin:0 50%;">77</div>
<div class="abs t" id="t0" style="left:9.650000000000002px;top:551.09px;font-size:8.4px;font-weight:normal;color:#d4d4d4;letter-spacing:0.000px;transform:scaleX(0.9300);transform-origin:0 50%;-webkit-text-stroke-width:0.12px;">12:15</div>
<div class="abs t" id="t1" style="left:70.94999999999999px;top:551.09px;font-size:8.4px;font-weight:normal;color:#d4d4d4;letter-spacing:-0.214px;-webkit-text-stroke-width:0.12px;">12:30</div>
<div class="abs t" id="t2" style="left:132.65px;top:551.09px;font-size:8.4px;font-weight:normal;color:#d4d4d4;letter-spacing:0.000px;transform:scaleX(0.9300);transform-origin:0 50%;-webkit-text-stroke-width:0.12px;">12:45</div>
<div class="abs t" id="t3" style="left:193.3px;top:551.09px;font-size:8.4px;font-weight:normal;color:#d4d4d4;letter-spacing:0.046px;-webkit-text-stroke-width:0.12px;">13:00</div>
<div class="abs t" id="t4" style="left:255.65000000000003px;top:551.09px;font-size:8.4px;font-weight:normal;color:#d4d4d4;letter-spacing:0.000px;transform:scaleX(0.9300);transform-origin:0 50%;-webkit-text-stroke-width:0.12px;">13:15</div>
<div class="abs t" id="t5" style="left:316.95000000000005px;top:551.09px;font-size:8.4px;font-weight:normal;color:#d4d4d4;letter-spacing:-0.214px;-webkit-text-stroke-width:0.12px;">13:30</div>
<div class="abs t" id="t6" style="left:378.65000000000003px;top:551.09px;font-size:8.4px;font-weight:normal;color:#d4d4d4;letter-spacing:0.000px;transform:scaleX(0.9300);transform-origin:0 50%;-webkit-text-stroke-width:0.12px;">13:45</div>
<div class="abs t" id="t7" style="left:439.3px;top:551.09px;font-size:8.4px;font-weight:normal;color:#d4d4d4;letter-spacing:0.046px;-webkit-text-stroke-width:0.12px;">14:00</div>
<div class="abs t" id="t8" style="left:501.65000000000003px;top:551.09px;font-size:8.4px;font-weight:normal;color:#d4d4d4;letter-spacing:0.000px;transform:scaleX(0.9300);transform-origin:0 50%;-webkit-text-stroke-width:0.12px;">14:15</div>
<div class="abs t" id="t9" style="left:562.9499999999999px;top:551.09px;font-size:8.4px;font-weight:normal;color:#d4d4d4;letter-spacing:-0.214px;-webkit-text-stroke-width:0.12px;">14:30</div>
<div class="abs t" id="t10" style="left:624.65px;top:551.09px;font-size:8.4px;font-weight:normal;color:#d4d4d4;letter-spacing:0.000px;transform:scaleX(0.9300);transform-origin:0 50%;-webkit-text-stroke-width:0.12px;">14:45</div>
<div class="abs t" id="t11" style="left:685.3px;top:551.09px;font-size:8.4px;font-weight:normal;color:#d4d4d4;letter-spacing:0.046px;-webkit-text-stroke-width:0.12px;">15:00</div>
<div class="abs t" id="t12" style="left:747.65px;top:551.09px;font-size:8.4px;font-weight:normal;color:#d4d4d4;letter-spacing:0.000px;transform:scaleX(0.9300);transform-origin:0 50%;-webkit-text-stroke-width:0.12px;">15:15</div>
<div class="abs t" id="t13" style="left:808.9499999999999px;top:551.09px;font-size:8.4px;font-weight:normal;color:#d4d4d4;letter-spacing:-0.214px;-webkit-text-stroke-width:0.12px;">15:30</div>
<div class="abs t" id="t14" style="left:870.65px;top:551.09px;font-size:8.4px;font-weight:normal;color:#d4d4d4;letter-spacing:0.000px;transform:scaleX(0.9300);transform-origin:0 50%;-webkit-text-stroke-width:0.12px;">15:45</div>
<div class="abs t" id="t15" style="left:931.3px;top:551.09px;font-size:8.4px;font-weight:normal;color:#d4d4d4;letter-spacing:0.046px;-webkit-text-stroke-width:0.12px;">16:00</div>

<svg class="abs" style="left:937.9px;top:532px" width="16" height="16" viewBox="0 0 16 16"><circle cx="8.1" cy="8.2" r="6.8" fill="#0f0f0f" stroke="#a842bb" stroke-width="1.5"/><path d="M9.9 4.2 L4.7 8.9 L7.7 8.9 L6.3 12 L11.4 7.4 L8.4 7.4 Z" fill="#b548c9"/></svg>
<svg class="abs" style="left:1006.3px;top:552.8px" width="11.5" height="11.5" viewBox="0 0 14 14"><path d="M4.2 2.2 L9.8 2.2 L12.6 7 L9.8 11.8 L4.2 11.8 L1.4 7 Z" fill="none" stroke="#cfcfcf" stroke-width="1.25" stroke-linejoin="round"/><circle cx="7" cy="7" r="1.9" fill="none" stroke="#cfcfcf" stroke-width="1.1"/></svg>
<svg class="abs" style="left:5px;top:525px;will-change:transform" width="115" height="24" viewBox="0 0 115 24">
<g fill="#ffffff" stroke="#131313" stroke-width="1.6" paint-order="stroke" stroke-linejoin="round">
<path d="M1.9 4 H11 V13.8 H6.4 V7.6 H1.9 Z"/>
<circle cx="14.1" cy="6" r="1.8"/>
<path d="M15 13.8 L17.9 4 H22.8 L19.8 13.8 Z"/>
<text id="tvtxt" x="28.1" y="14" font-family="Liberation Sans, sans-serif" font-size="14" font-weight="bold" letter-spacing="0.02">TradingView</text>
</g></svg>
</body></html>
